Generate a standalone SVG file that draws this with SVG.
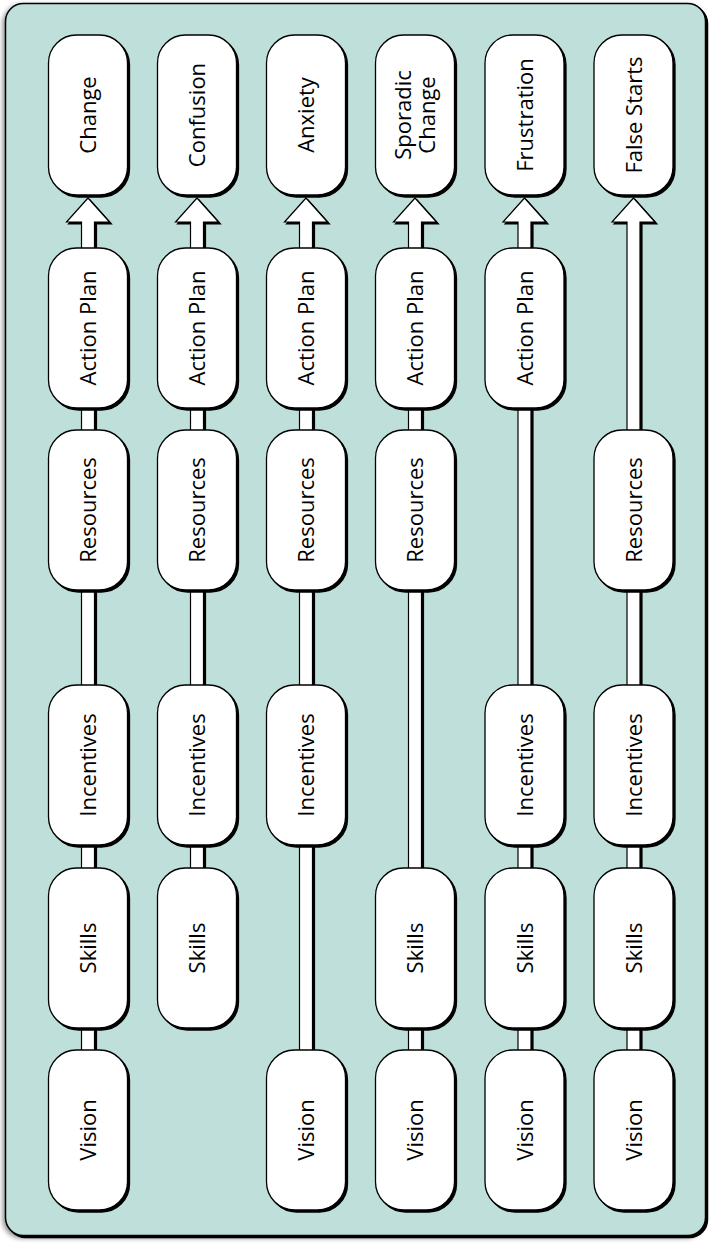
<svg xmlns="http://www.w3.org/2000/svg" width="713" height="1243" viewBox="0 0 713 1243">
<defs>
<filter id="sh" x="-10%" y="-10%" width="130%" height="130%">
<feOffset in="SourceAlpha" dx="2.2" dy="2.2" result="o"/>
<feMerge><feMergeNode in="o"/><feMergeNode in="SourceGraphic"/></feMerge>
</filter>
<filter id="bgsh" x="-5%" y="-5%" width="110%" height="110%">
<feGaussianBlur in="SourceAlpha" stdDeviation="2.5" result="b"/>
<feOffset in="b" dx="-2" dy="2" result="bo"/>
<feComponentTransfer in="bo" result="bs"><feFuncA type="linear" slope="0.45"/></feComponentTransfer>
<feOffset in="SourceAlpha" dx="2" dy="2" result="hard"/>
<feMerge><feMergeNode in="bs"/><feMergeNode in="hard"/><feMergeNode in="SourceGraphic"/></feMerge>
</filter>
<style>
.bg{fill:#bfe0da;stroke:#000;stroke-width:1.5}
.node rect{fill:#fff;stroke:#000;stroke-width:1.3}
.node text{font-family:"Open Sans","Noto Sans",sans-serif;font-size:22px;fill:#000;text-anchor:middle}
.conn{fill:#fff;stroke:#000;stroke-width:1.2;filter:url(#sh)}
</style>
</defs>
<rect class="bg" x="5.5" y="3.5" width="700" height="1232" rx="18" filter="url(#bgsh)"/>

<g id="connectors">
<!-- column 1: Change -->
<rect class="conn" x="81.5" y="1020" width="13" height="40"/>
<rect class="conn" x="81.5" y="838" width="13" height="40"/>
<rect class="conn" x="81.5" y="583" width="13" height="110"/>
<rect class="conn" x="81.5" y="400" width="13" height="40"/>
<path class="conn" d="M81.5,256 V222 H66.5 L88,198 L109.5,222 H94.5 V256 Z"/>
<!-- column 2: Confusion -->
<rect class="conn" x="190.5" y="838" width="13" height="40"/>
<rect class="conn" x="190.5" y="583" width="13" height="110"/>
<rect class="conn" x="190.5" y="400" width="13" height="40"/>
<path class="conn" d="M190.5,256 V222 H175.5 L197,198 L218.5,222 H203.5 V256 Z"/>
<!-- column 3: Anxiety -->
<rect class="conn" x="299.5" y="838" width="13" height="222"/>
<rect class="conn" x="299.5" y="583" width="13" height="110"/>
<rect class="conn" x="299.5" y="400" width="13" height="40"/>
<path class="conn" d="M299.5,256 V222 H284.5 L306,198 L327.5,222 H312.5 V256 Z"/>
<!-- column 4: Sporadic Change -->
<rect class="conn" x="408.5" y="1020" width="13" height="40"/>
<rect class="conn" x="408.5" y="583" width="13" height="295"/>
<rect class="conn" x="408.5" y="400" width="13" height="40"/>
<path class="conn" d="M408.5,256 V222 H393.5 L415,198 L436.5,222 H421.5 V256 Z"/>
<!-- column 5: Frustration -->
<rect class="conn" x="518" y="1020" width="13" height="40"/>
<rect class="conn" x="518" y="838" width="13" height="40"/>
<rect class="conn" x="518" y="400" width="13" height="293"/>
<path class="conn" d="M518,256 V222 H503 L524.5,198 L546,222 H531 V256 Z"/>
<!-- column 6: False Starts -->
<rect class="conn" x="627" y="1020" width="13" height="40"/>
<rect class="conn" x="627" y="838" width="13" height="40"/>
<rect class="conn" x="627" y="583" width="13" height="110"/>
<path class="conn" d="M627,440 V222 H612 L633.5,198 L655,222 H640 V440 Z"/>
</g>

<!-- Column 1 -->
<g id="c1-change" class="node"><rect x="48.5" y="35" width="79" height="160" rx="28" filter="url(#sh)"/><text transform="translate(88,115) rotate(-90)" y="8">Change</text></g>
<g id="c1-actionplan" class="node"><rect x="48.5" y="248" width="79" height="160" rx="28" filter="url(#sh)"/><text transform="translate(88,328) rotate(-90)" y="8">Action Plan</text></g>
<g id="c1-resources" class="node"><rect x="48.5" y="430" width="79" height="160" rx="28" filter="url(#sh)"/><text transform="translate(88,510) rotate(-90)" y="8">Resources</text></g>
<g id="c1-incentives" class="node"><rect x="48.5" y="685" width="79" height="160" rx="28" filter="url(#sh)"/><text transform="translate(88,765) rotate(-90)" y="8">Incentives</text></g>
<g id="c1-skills" class="node"><rect x="48.5" y="868" width="79" height="160" rx="28" filter="url(#sh)"/><text transform="translate(88,948) rotate(-90)" y="8">Skills</text></g>
<g id="c1-vision" class="node"><rect x="48.5" y="1050" width="79" height="160" rx="28" filter="url(#sh)"/><text transform="translate(88,1130) rotate(-90)" y="8">Vision</text></g>

<!-- Column 2 -->
<g id="c2-confusion" class="node"><rect x="157.5" y="35" width="79" height="160" rx="28" filter="url(#sh)"/><text transform="translate(197,115) rotate(-90)" y="8">Confusion</text></g>
<g id="c2-actionplan" class="node"><rect x="157.5" y="248" width="79" height="160" rx="28" filter="url(#sh)"/><text transform="translate(197,328) rotate(-90)" y="8">Action Plan</text></g>
<g id="c2-resources" class="node"><rect x="157.5" y="430" width="79" height="160" rx="28" filter="url(#sh)"/><text transform="translate(197,510) rotate(-90)" y="8">Resources</text></g>
<g id="c2-incentives" class="node"><rect x="157.5" y="685" width="79" height="160" rx="28" filter="url(#sh)"/><text transform="translate(197,765) rotate(-90)" y="8">Incentives</text></g>
<g id="c2-skills" class="node"><rect x="157.5" y="868" width="79" height="160" rx="28" filter="url(#sh)"/><text transform="translate(197,948) rotate(-90)" y="8">Skills</text></g>

<!-- Column 3 -->
<g id="c3-anxiety" class="node"><rect x="266.5" y="35" width="79" height="160" rx="28" filter="url(#sh)"/><text transform="translate(306,115) rotate(-90)" y="8">Anxiety</text></g>
<g id="c3-actionplan" class="node"><rect x="266.5" y="248" width="79" height="160" rx="28" filter="url(#sh)"/><text transform="translate(306,328) rotate(-90)" y="8">Action Plan</text></g>
<g id="c3-resources" class="node"><rect x="266.5" y="430" width="79" height="160" rx="28" filter="url(#sh)"/><text transform="translate(306,510) rotate(-90)" y="8">Resources</text></g>
<g id="c3-incentives" class="node"><rect x="266.5" y="685" width="79" height="160" rx="28" filter="url(#sh)"/><text transform="translate(306,765) rotate(-90)" y="8">Incentives</text></g>
<g id="c3-vision" class="node"><rect x="266.5" y="1050" width="79" height="160" rx="28" filter="url(#sh)"/><text transform="translate(306,1130) rotate(-90)" y="8">Vision</text></g>

<!-- Column 4 -->
<g id="c4-sporadicchange" class="node"><rect x="375.5" y="35" width="79" height="160" rx="28" filter="url(#sh)"/><text transform="translate(415,115) rotate(-90)"><tspan x="0" y="-4">Sporadic</tspan><tspan x="0" y="20">Change</tspan></text></g>
<g id="c4-actionplan" class="node"><rect x="375.5" y="248" width="79" height="160" rx="28" filter="url(#sh)"/><text transform="translate(415,328) rotate(-90)" y="8">Action Plan</text></g>
<g id="c4-resources" class="node"><rect x="375.5" y="430" width="79" height="160" rx="28" filter="url(#sh)"/><text transform="translate(415,510) rotate(-90)" y="8">Resources</text></g>
<g id="c4-skills" class="node"><rect x="375.5" y="868" width="79" height="160" rx="28" filter="url(#sh)"/><text transform="translate(415,948) rotate(-90)" y="8">Skills</text></g>
<g id="c4-vision" class="node"><rect x="375.5" y="1050" width="79" height="160" rx="28" filter="url(#sh)"/><text transform="translate(415,1130) rotate(-90)" y="8">Vision</text></g>

<!-- Column 5 -->
<g id="c5-frustration" class="node"><rect x="485" y="35" width="79" height="160" rx="28" filter="url(#sh)"/><text transform="translate(524.5,115) rotate(-90)" y="8">Frustration</text></g>
<g id="c5-actionplan" class="node"><rect x="485" y="248" width="79" height="160" rx="28" filter="url(#sh)"/><text transform="translate(524.5,328) rotate(-90)" y="8">Action Plan</text></g>
<g id="c5-incentives" class="node"><rect x="485" y="685" width="79" height="160" rx="28" filter="url(#sh)"/><text transform="translate(524.5,765) rotate(-90)" y="8">Incentives</text></g>
<g id="c5-skills" class="node"><rect x="485" y="868" width="79" height="160" rx="28" filter="url(#sh)"/><text transform="translate(524.5,948) rotate(-90)" y="8">Skills</text></g>
<g id="c5-vision" class="node"><rect x="485" y="1050" width="79" height="160" rx="28" filter="url(#sh)"/><text transform="translate(524.5,1130) rotate(-90)" y="8">Vision</text></g>

<!-- Column 6 -->
<g id="c6-falsestarts" class="node"><rect x="594" y="35" width="79" height="160" rx="28" filter="url(#sh)"/><text transform="translate(633.5,115) rotate(-90)" y="8">False Starts</text></g>
<g id="c6-resources" class="node"><rect x="594" y="430" width="79" height="160" rx="28" filter="url(#sh)"/><text transform="translate(633.5,510) rotate(-90)" y="8">Resources</text></g>
<g id="c6-incentives" class="node"><rect x="594" y="685" width="79" height="160" rx="28" filter="url(#sh)"/><text transform="translate(633.5,765) rotate(-90)" y="8">Incentives</text></g>
<g id="c6-skills" class="node"><rect x="594" y="868" width="79" height="160" rx="28" filter="url(#sh)"/><text transform="translate(633.5,948) rotate(-90)" y="8">Skills</text></g>
<g id="c6-vision" class="node"><rect x="594" y="1050" width="79" height="160" rx="28" filter="url(#sh)"/><text transform="translate(633.5,1130) rotate(-90)" y="8">Vision</text></g>
</svg>
